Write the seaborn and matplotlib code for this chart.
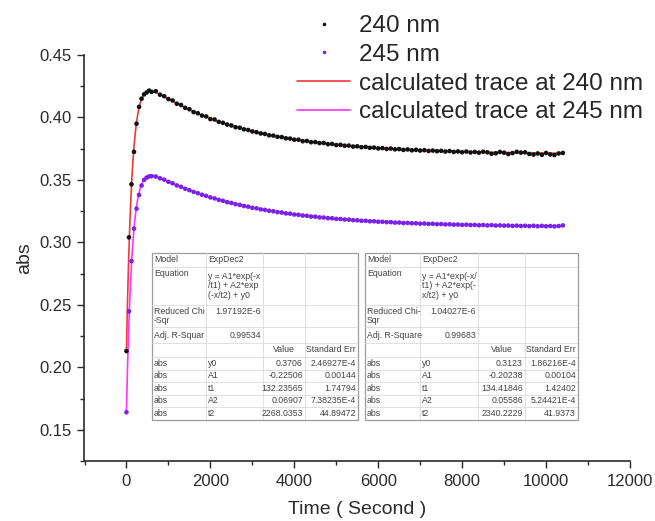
import numpy as np
import pandas as pd
import matplotlib
matplotlib.use("Agg")
import matplotlib.pyplot as plt
from matplotlib.lines import Line2D
from matplotlib.patches import Rectangle
from matplotlib.ticker import MultipleLocator
import seaborn as sns

# ---------------------------------------------------------------- data
# sampling times (s): 60 s steps during the rise, 100 s steps afterwards
time_s = np.concatenate([np.arange(0, 601, 60), np.arange(700, 10401, 100)])

abs_240 = [
    0.2130, 0.3040, 0.3465, 0.3725, 0.3950, 0.4085, 0.4150, 0.4185, 0.4200, 0.4215, 0.4205,
    0.4210, 0.4182, 0.4170, 0.4147, 0.4136, 0.4110, 0.4100, 0.4077, 0.4066, 0.4043,
    0.4034, 0.4015, 0.4008, 0.3987, 0.3984, 0.3965, 0.3957, 0.3943, 0.3936, 0.3922,
    0.3918, 0.3905, 0.3900, 0.3888, 0.3882, 0.3872, 0.3868, 0.3857, 0.3855, 0.3845,
    0.3843, 0.3833, 0.3831, 0.3822, 0.3822, 0.3810, 0.3812, 0.3802, 0.3803, 0.3795,
    0.3796, 0.3786, 0.3788, 0.3779, 0.3781, 0.3774, 0.3775, 0.3767, 0.3769, 0.3762,
    0.3764, 0.3757, 0.3759, 0.3752, 0.3755, 0.3748, 0.3751, 0.3745, 0.3747, 0.3740,
    0.3744, 0.3737, 0.3741, 0.3735, 0.3738, 0.3732, 0.3735, 0.3730, 0.3733, 0.3727,
    0.3731, 0.3724, 0.3728, 0.3722, 0.3727, 0.3720, 0.3724, 0.3718, 0.3726, 0.3721,
    0.3709, 0.3713, 0.3724, 0.3718, 0.3707, 0.3715, 0.3725, 0.3719, 0.3721, 0.3708,
    0.3703, 0.3712, 0.3701, 0.3716, 0.3704, 0.3699, 0.3712, 0.3716,
]

abs_245 = [
    0.1640, 0.2448, 0.2850, 0.3110, 0.3270, 0.3380, 0.3455, 0.3500, 0.3518, 0.3528, 0.3530,
    0.3527, 0.3513, 0.3502, 0.3485, 0.3473, 0.3456, 0.3445, 0.3429, 0.3418, 0.3404,
    0.3394, 0.3381, 0.3372, 0.3360, 0.3352, 0.3340, 0.3333, 0.3322, 0.3316, 0.3306,
    0.3300, 0.3291, 0.3286, 0.3277, 0.3273, 0.3264, 0.3260, 0.3253, 0.3249, 0.3242,
    0.3239, 0.3232, 0.3230, 0.3223, 0.3221, 0.3215, 0.3213, 0.3207, 0.3206, 0.3200,
    0.3199, 0.3194, 0.3193, 0.3188, 0.3187, 0.3183, 0.3182, 0.3178, 0.3177, 0.3173,
    0.3173, 0.3169, 0.3169, 0.3165, 0.3165, 0.3162, 0.3162, 0.3158, 0.3159, 0.3155,
    0.3156, 0.3153, 0.3153, 0.3150, 0.3151, 0.3148, 0.3149, 0.3146, 0.3147, 0.3144,
    0.3145, 0.3142, 0.3143, 0.3140, 0.3142, 0.3139, 0.3140, 0.3137, 0.3139, 0.3136,
    0.3138, 0.3135, 0.3136, 0.3134, 0.3135, 0.3132, 0.3134, 0.3131, 0.3133, 0.3130,
    0.3133, 0.3129, 0.3132, 0.3129, 0.3131, 0.3128, 0.3131, 0.3136,
]

# ExpDec2 fit results: y = A1*exp(-x/t1) + A2*exp(-x/t2) + y0
param_names = ["y0", "A1", "t1", "A2", "t2"]
values_240 = [0.3706, -0.22506, 132.23565, 0.06907, 2268.0353]
stderr_240 = ["2.46927E-4", "0.00144", "1.74794", "7.38235E-4", "44.89472"]
chi2_240, r2_240 = "1.97192E-6", "0.99534"
values_245 = [0.3123, -0.20238, 134.41846, 0.05586, 2340.2229]
stderr_245 = ["1.86216E-4", "0.00104", "1.42402", "5.24421E-4", "41.9373"]
chi2_245, r2_245 = "1.04027E-6", "0.99683"

series_labels = ["240 nm", "245 nm"]
fit_labels = ["calculated trace at 240 nm", "calculated trace at 245 nm"]
x_ticks = [0, 2000, 4000, 6000, 8000, 10000, 12000]
y_ticks = [0.15, 0.20, 0.25, 0.30, 0.35, 0.40, 0.45]


def expdec2(t, y0, a1, t1, a2, t2):
    return a1 * np.exp(-t / t1) + a2 * np.exp(-t / t2) + y0


# ---------------------------------------------------------------- frames
n = len(time_s)
df_data = pd.DataFrame({
    "time": np.concatenate([time_s, time_s]),
    "abs": np.concatenate([abs_240, abs_245]),
    "series": [series_labels[0]] * n + [series_labels[1]] * n,
})
t_fit = np.linspace(0, 10400, 1200)
df_fit = pd.DataFrame({
    "time": np.concatenate([t_fit, t_fit]),
    "abs": np.concatenate([expdec2(t_fit, *values_240), expdec2(t_fit, *values_245)]),
    "series": [fit_labels[0]] * len(t_fit) + [fit_labels[1]] * len(t_fit),
})

# ---------------------------------------------------------------- style
sns.set_style("ticks")
plt.rcParams["font.family"] = ["Liberation Sans", "DejaVu Sans"]
INK = "#2b2b2b"

W, H = 655, 521
fig = plt.figure(figsize=(W / 100, H / 100), dpi=100)
ax = fig.add_axes([84.5 / W, 1 - 461 / H, (630 - 84.5) / W, (461 - 55) / H])

data_colors = {series_labels[0]: "#111111", series_labels[1]: "#7a22e8"}
fit_colors = {fit_labels[0]: "#ef3b36", fit_labels[1]: "#ff33ff"}

sns.lineplot(data=df_fit, x="time", y="abs", hue="series", palette=fit_colors,
             linewidth=1.2, legend=False, ax=ax, zorder=2, sort=True)
sns.scatterplot(data=df_data, x="time", y="abs", hue="series", palette=data_colors,
                s=11, linewidth=0, legend=False, ax=ax, zorder=3)

ax.set_xlim(-1000, 12000)
ax.set_ylim(0.125, 0.45)
ax.set_xticks(x_ticks)
ax.set_yticks(y_ticks)
ax.set_yticklabels([f"{v:.2f}" for v in y_ticks])
ax.xaxis.set_minor_locator(MultipleLocator(1000))
ax.yaxis.set_minor_locator(MultipleLocator(0.025))
ax.tick_params(which="major", direction="out", length=5, width=1.0,
               color=INK, labelsize=12, labelcolor=INK, pad=4)
ax.tick_params(which="minor", direction="out", length=3, width=1.0, color=INK)
for side in ("top", "right"):
    ax.spines[side].set_visible(False)
for side in ("left", "bottom"):
    ax.spines[side].set_linewidth(1.2)
    ax.spines[side].set_color(INK)
ax.set_xlabel("Time ( Second )", fontsize=14, color=INK, labelpad=9)
ax.set_ylabel("abs", fontsize=14, color=INK, labelpad=5)

handles = [
    Line2D([], [], ls="", marker="o", ms=2.6, mew=0, color=data_colors[series_labels[0]]),
    Line2D([], [], ls="", marker="o", ms=2.6, mew=0, color=data_colors[series_labels[1]]),
    Line2D([], [], color=fit_colors[fit_labels[0]], lw=1.2),
    Line2D([], [], color=fit_colors[fit_labels[1]], lw=1.2),
]
fig.legend(handles, series_labels + fit_labels, loc="upper left",
           bbox_to_anchor=(297 / W, 1 - 15 / H), frameon=False, fontsize=17.5,
           handlelength=2.2, handletextpad=0.35, labelspacing=0.28,
           borderpad=0, borderaxespad=0)


# ---------------------------------------------------------------- fit tables
def draw_table(left, top, col_edges, row_edges, cells):
    width, height = col_edges[-1], row_edges[-1]
    tax = fig.add_axes([left / W, 1 - (top + height) / H, width / W, height / H])
    tax.set_xlim(0, width)
    tax.set_ylim(height, 0)
    tax.axis("off")
    tax.add_patch(Rectangle((0, 0), width, height, facecolor="white",
                            edgecolor="#9c9c9c", lw=0.9, clip_on=False, zorder=0))
    for y in row_edges[1:-1]:
        tax.plot([0, width], [y, y], color="#dadada", lw=0.6, zorder=1)
    for x in col_edges[1:-1]:
        tax.plot([x, x], [0, height], color="#dadada", lw=0.6, zorder=1)
    for r, c, text, ha, dy in cells:
        if ha == "left":
            x = col_edges[c] + 2
        elif ha == "right":
            x = col_edges[c + 1] - 2
        else:
            x = 0.5 * (col_edges[c] + col_edges[c + 1])
        y = 0.5 * (row_edges[r] + row_edges[r + 1]) if dy is None else row_edges[r] + dy
        tax.text(x, y, text, ha=ha, va="center", fontsize=6.3, color="#444444",
                 linespacing=1.05, zorder=2)


def table_cells(equation, chi_label, r2_label, chi2, r2, values, errors):
    cells = [
        (0, 0, "Model", "left", None), (0, 1, "ExpDec2", "left", None),
        (1, 0, "Equation", "left", 6), (1, 1, equation, "left", None),
        (2, 0, chi_label, "left", None), (2, 1, chi2, "right", 7),
        (3, 0, r2_label, "left", None), (3, 1, r2, "right", None),
        (4, 2, "Value", "center", None), (4, 3, "Standard Err", "right", None),
    ]
    for i, (name, val, err) in enumerate(zip(param_names, values, errors)):
        r = 5 + i
        cells += [(r, 0, "abs", "left", None), (r, 1, name, "left", None),
                  (r, 2, str(val), "right", None), (r, 3, err, "right", None)]
    return cells


rows = [0, 14, 52, 74, 90, 104, 116.5, 129, 141.5, 154, 166.5]
draw_table(152, 253, [0, 54, 111, 153, 206], rows,
           table_cells("y = A1*exp(-x\n/t1) + A2*exp\n(-x/t2) + y0",
                       "Reduced Chi\n-Sqr", "Adj. R-Squar",
                       chi2_240, r2_240, values_240, stderr_240))
draw_table(365, 253, [0, 55, 113, 160, 213], rows,
           table_cells("y = A1*exp(-x/\nt1) + A2*exp(-\nx/t2) + y0",
                       "Reduced Chi-\nSqr", "Adj. R-Square",
                       chi2_245, r2_245, values_245, stderr_245))

fig.savefig("out.png", dpi=100)
